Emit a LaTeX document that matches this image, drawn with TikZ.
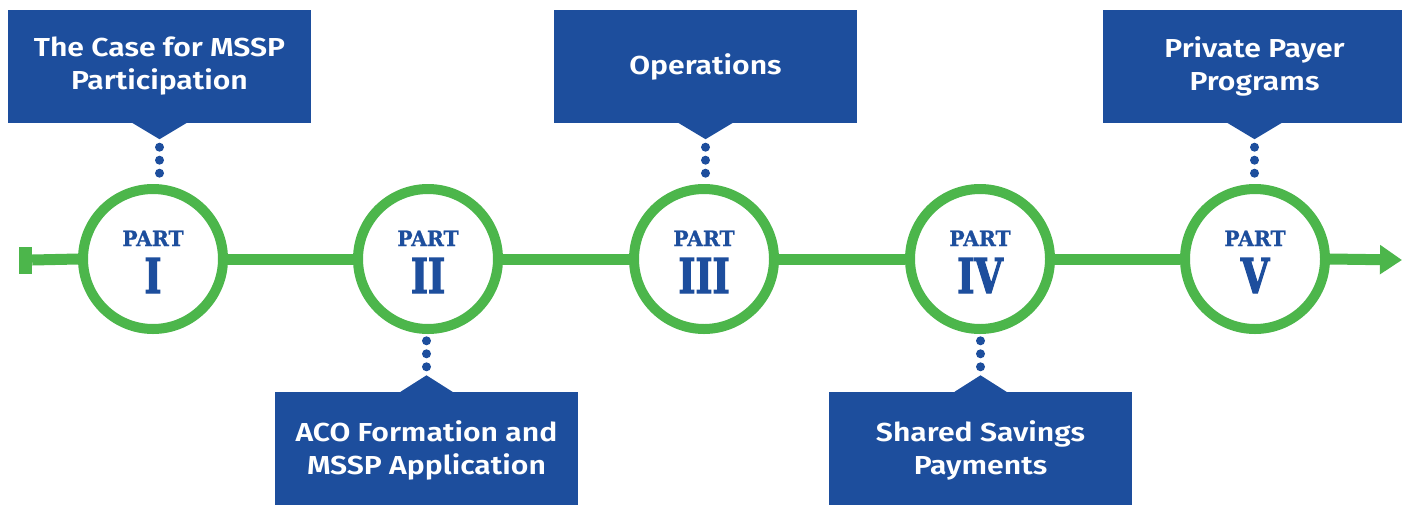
\documentclass[tikz,border=0pt]{standalone}
\usepackage{fontspec}
\usetikzlibrary{calc,arrows.meta}
\newfontfamily\boxfont{Fira Sans}[UprightFont={* SemiBold}, FakeStretch=1.16]
\newfontfamily\slab{DejaVu Serif}[UprightFont={* Bold}, FakeStretch=0.97, FakeBold=1]
\newfontfamily\slabnum{DejaVu Serif}[UprightFont={* Bold}, FakeStretch=0.76, FakeBold=2.5]
\definecolor{bblue}{HTML}{1D4E9D}
\definecolor{ggreen}{HTML}{4CB64B}
\begin{document}
\begin{tikzpicture}[x=1pt,y=-1pt,
  box/.style={fill=bblue, text=white, minimum width=303pt, minimum height=113pt, inner sep=0pt, align=center, font=\boxfont\fontsize{26}{33}\selectfont},
  ring/.style={circle, draw=ggreen, line width=10pt, minimum size=140pt, inner sep=0pt, fill=white},
  parttxt/.style={text=bblue, font=\slab\fontsize{21}{21}\selectfont, inner sep=0pt, anchor=base},
  numtxt/.style={text=bblue, font=\slabnum\fontsize{48}{48}\selectfont, inner sep=0pt, anchor=base},
  dot/.style={circle, fill=bblue, minimum size=9pt, inner sep=0pt},
  gline/.style={draw=ggreen, line width=11pt},
  ptr/.style={fill=bblue}]
\useasboundingbox (0,0) rectangle (1402,504);
% timeline nodes
\node[fill=ggreen, minimum width=13pt, minimum height=27pt, inner sep=0pt] (cap) at (25.5,260) {};
\coordinate (tip) at (1402,260);
\foreach \n/\x/\r in {1/153/I, 2/428/II, 3/704/III, 4/980/IV, 5/1255/V}{
  \node[ring] (p\n) at (\x,259) {};
  \node[parttxt] (p\n t) at ($(p\n.center)+(0,-13)$) {PART};
  \node[numtxt] (p\n n) at ($(p\n.center)+(0,34)$) {\r};
}
\draw[gline] (cap.east) -- (p1.west);
\draw[gline] (p1.east) -- (p2.west);
\draw[gline] (p2.east) -- (p3.west);
\draw[gline] (p3.east) -- (p4.west);
\draw[gline] (p4.east) -- (p5.west);
\draw[gline, -{Triangle[length=22pt, width=28pt]}] (p5.east) -- (tip);
% top boxes
\node[box] (b1) at (159.5,66.5) {The Case for MSSP\\Participation};
\node[box] (b3) at (705.5,66.5) {Operations};
\node[box] (b5) at (1254.5,66.5) {Private Payer\\Programs};
\foreach \b in {b1,b3,b5}{
  \fill[ptr] ($(\b.south)+(-27.5,-0.5)$) -- ($(\b.south)+(0,16)$) -- ($(\b.south)+(27.5,-0.5)$) -- cycle;
  \node[dot] (\b d1) at ($(\b.south)+(0,24)$) {};
  \node[dot] (\b d2) at ($(\b.south)+(0,37)$) {};
  \node[dot] (\b d3) at ($(\b.south)+(0,50)$) {};
}
% bottom boxes
\node[box, text depth=0pt] (b2) at (426.5,448) {ACO Formation and\\MSSP Application};
\node[box, text depth=0pt] (b4) at (980.5,448) {Shared Savings\\Payments};
\foreach \b in {b2,b4}{
  \fill[ptr] ($(\b.north)+(-26,0.5)$) -- ($(\b.north)+(0,-16)$) -- ($(\b.north)+(26,0.5)$) -- cycle;
  \node[dot] (\b d1) at ($(\b.north)+(0,-24.5)$) {};
  \node[dot] (\b d2) at ($(\b.north)+(0,-37.5)$) {};
  \node[dot] (\b d3) at ($(\b.north)+(0,-50.5)$) {};
}
\end{tikzpicture}
\end{document}
